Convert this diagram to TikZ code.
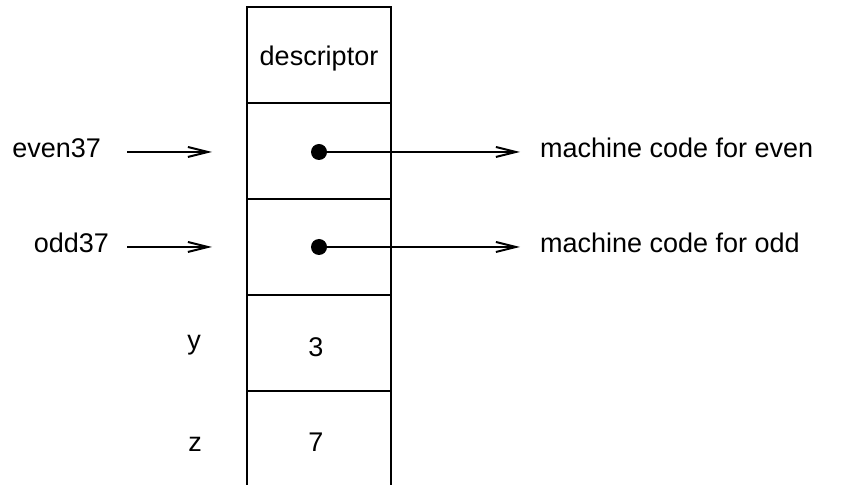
\documentclass[tikz,border=0pt]{standalone}
\usepackage{fontspec}
\setmainfont{Liberation Sans}
\usetikzlibrary{arrows.meta}
\tikzset{
  ptr/.style={-{Straight Barb[length=10pt,width=5pt]}},
  lbl/.style={inner sep=0pt},
  dot/.style={circle,fill,inner sep=0pt,minimum size=8pt},
}
\begin{document}
\begin{tikzpicture}[x=0.5pt,y=-0.5pt,line width=1pt,font=\fontsize{13.5}{16}\selectfont]
    \useasboundingbox (0,0) rectangle (844,485);
    % column of cells, open at the bottom
    \draw (247,485) -- (247,7) -- (391,7) -- (391,485);
    \foreach \yy in {103,199,295,391}
        \draw (247,\yy) -- (391,\yy);
    \node[lbl] (desc) at (319,59) {descriptor};
    \node[lbl] (three) at (316,347) {3};
    \node[lbl] (seven) at (316,442) {7};
    \node[lbl] (ylbl) at (194,345) {y};
    \node[lbl] (zlbl) at (195,444) {z};
    % closure pointers
    \node[lbl,anchor=mid east] (even) at (102,152) {even37};
    \node[lbl,anchor=mid east] (odd) at (110,247) {odd37};
    \coordinate (evtip) at (212,152);
    \coordinate (odtip) at (212,247);
    \draw[ptr,shorten <=12.5pt] (even.mid east) -- (evtip);
    \draw[ptr,shorten <=8.5pt] (odd.mid east) -- (odtip);
    \node[dot] (evdot) at (319,152) {};
    \node[dot] (oddot) at (319,247) {};
    \node[lbl,anchor=mid west] (evcode) at (539,152) {machine code for even};
    \node[lbl,anchor=mid west] (odcode) at (539,247) {machine code for odd};
    \draw[ptr,shorten >=9.5pt] (evdot.center) -- (evcode.mid west);
    \draw[ptr,shorten >=9.5pt] (oddot.center) -- (odcode.mid west);
\end{tikzpicture}
\end{document}
